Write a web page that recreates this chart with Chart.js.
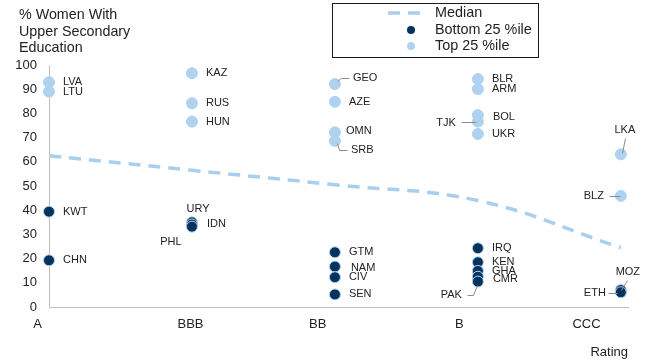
<!DOCTYPE html>
<html>
<head>
<meta charset="utf-8">
<script src="https://cdn.jsdelivr.net/npm/chart.js@4.4.1/dist/chart.umd.min.js"></script>
<style>
  html, body { margin: 0; padding: 0; background: #fff; }
  #wrap { width: 649px; height: 362px; position: relative; }
</style>
</head>
<body>
<div id="wrap"><canvas id="eduChart"></canvas></div>
<script>
'use strict';

/* ---- Data ---- */
const RATINGS = ['A', 'BBB', 'BB', 'B', 'CCC'];
const MEDIAN  = [62.5, 56.5, 50.5, 44.0, 24.5];

const TOP_CODES  = ['LVA', 'LTU', 'KAZ', 'RUS', 'HUN', 'GEO', 'AZE', 'OMN', 'SRB', 'BLR', 'ARM', 'BOL', 'TJK', 'UKR', 'LKA', 'BLZ'];
const TOP_RATING = [0, 0, 1, 1, 1, 2, 2, 2, 2, 3, 3, 3, 3, 3, 4, 4];
const TOP_VALUES = [92.9, 89.0, 96.6, 84.2, 76.6, 92.1, 84.8, 72.2, 68.6, 94.2, 90.0, 79.3, 76.6, 71.5, 63.1, 45.9];

const BOTTOM_CODES  = ['KWT', 'CHN', 'URY', 'IDN', 'PHL', 'GTM', 'NAM', 'CIV', 'SEN', 'IRQ', 'KEN', 'GHA', 'CMR', 'PAK', 'MOZ', 'ETH'];
const BOTTOM_RATING = [0, 0, 1, 1, 1, 2, 2, 2, 2, 3, 3, 3, 3, 3, 4, 4];
const BOTTOM_VALUES = [39.4, 19.3, 35.0, 34.1, 33.2, 22.6, 16.7, 12.3, 5.2, 24.3, 18.5, 14.9, 12.5, 10.5, 7.0, 6.1];

const Y_TITLE = ['% Women With', 'Upper Secondary', 'Education'];

/* ---- Styles ---- */
const COLORS = {
  light:  '#aed2ef',
  dark:   '#06325e',
  median: '#a9cfee',
  axis:   '#bfbfbf',
  text:   '#222222',
  leader: '#8c8c8c',
};
const FONT = "'Liberation Sans', Arial, sans-serif";

// where rating names sit relative to their column (axis units)
const RATING_LABEL_SHIFT = [-0.08, -0.01, -0.12, -0.13, -0.24];

// data label placement relative to the point, in px
const LABEL_LAYOUT = {
  URY: { dx: 6, dy: -13, align: 'center' },
  IDN: { dx: 15, dy: -1 },
  PHL: { dx: -21, dy: 15, align: 'center' },
  GEO: { dx: 18, dy: -6, lead: [[2, -3], [6, -6], [14, -6]] },
  OMN: { dx: 11, dy: -1 },
  SRB: { dx: 16, dy: 9, lead: [[2, 2], [4, 9], [12, 9]] },
  NAM: { dx: 16, dy: 1 },
  BOL: { dx: 15, dy: 2 },
  TJK: { dx: -22, dy: 1, align: 'right', lead: [[-17, 0], [-2, 0]] },
  CMR: { dx: 15, dy: 2 },
  PAK: { dx: -16, dy: 13, align: 'right', lead: [[-11, 13], [-5, 13], [-1, 3]] },
  LKA: { dx: 4, dy: -24, align: 'center', lead: [[1, -1], [4, -16]] },
  BLZ: { dx: -17, dy: 0, align: 'right', lead: [[-12, 0], [-1, 0]] },
  MOZ: { dx: 7, dy: -18, align: 'center', lead: [[0, 0], [6, -10]] },
  ETH: { dx: -15, dy: 1, align: 'right', lead: [[-13, 1], [-4, 1]] },
};

/* ---- Point labels with leader lines ---- */
const pointLabels = {
  id: 'pointLabels',
  afterDatasetsDraw(chart) {
    const ctx = chart.ctx;
    ctx.save();
    ctx.font = `11px ${FONT}`;
    ctx.fillStyle = COLORS.text;
    ctx.textBaseline = 'middle';
    ctx.strokeStyle = COLORS.leader;
    ctx.lineWidth = 1;
    chart.data.datasets.forEach((ds, di) => {
      if (!ds.codes) return;
      chart.getDatasetMeta(di).data.forEach((pt, i) => {
        const code = ds.codes[i];
        const lay = LABEL_LAYOUT[code] || {};
        const dx = lay.dx !== undefined ? lay.dx : 14;
        const dy = lay.dy || 0;
        if (lay.lead) {
          ctx.beginPath();
          lay.lead.forEach(([lx, ly], k) => {
            const px = Math.round(pt.x + lx) + 0.5, py = Math.round(pt.y + ly) + 0.5;
            k ? ctx.lineTo(px, py) : ctx.moveTo(px, py);
          });
          ctx.stroke();
        }
        ctx.textAlign = lay.align || 'left';
        ctx.fillText(code, pt.x + dx, pt.y + dy);
      });
    });
    ctx.restore();
  }
};

/* ---- Axis title, top-left, three lines ---- */
const cornerTitle = {
  id: 'cornerTitle',
  afterDraw(chart) {
    const ctx = chart.ctx;
    ctx.save();
    ctx.font = `14.3px ${FONT}`;
    ctx.fillStyle = COLORS.text;
    ctx.textAlign = 'left';
    ctx.textBaseline = 'middle';
    Y_TITLE.forEach((line, i) => ctx.fillText(line, 19, 15.5 + i * 16.5));
    ctx.restore();
  }
};

/* ---- Boxed legend, stacked ---- */
const boxLegend = {
  id: 'boxLegend',
  afterDraw(chart) {
    const ctx = chart.ctx;
    const ds = chart.data.datasets;
    ctx.save();
    ctx.strokeStyle = '#1a1a1a';
    ctx.lineWidth = 1;
    ctx.strokeRect(332.5, 3.5, 206, 54);

    ctx.font = `14.4px ${FONT}`;
    ctx.fillStyle = COLORS.text;
    ctx.textBaseline = 'middle';
    ctx.textAlign = 'left';

    // median sample
    ctx.strokeStyle = ds[0].borderColor;
    ctx.lineWidth = ds[0].borderWidth;
    ctx.setLineDash(ds[0].borderDash);
    ctx.beginPath();
    ctx.moveTo(388, 13);
    ctx.lineTo(424, 13);
    ctx.stroke();
    ctx.setLineDash([]);
    ctx.fillText(ds[0].label, 435, 13.5);

    [ds[2], ds[1]].forEach((d, k) => {
      const y = 30 + k * 16;
      ctx.fillStyle = d.backgroundColor;
      ctx.beginPath();
      ctx.arc(411, y, 4, 0, Math.PI * 2);
      ctx.fill();
      ctx.fillStyle = COLORS.text;
      ctx.fillText(d.label, 435, y + 0.5);
    });
    ctx.restore();
  }
};

function toPoints(ratings, values) {
  return values.map((v, i) => ({ x: ratings[i], y: v }));
}

function initEduChart() {
  const el = document.getElementById('eduChart');
  if (!el) return;
  new Chart(el, {
    type: 'scatter',
    data: {
      datasets: [
        {
          label: 'Median',
          data: MEDIAN.map((v, i) => ({ x: i, y: v })),
          showLine: true,
          borderColor: COLORS.median,
          borderWidth: 3.5,
          borderDash: [12, 8],
          tension: 0.4,
          pointRadius: 0,
          clip: false,
          order: 3,
        },
        {
          label: 'Top 25 %ile',
          codes: TOP_CODES,
          data: toPoints(TOP_RATING, TOP_VALUES),
          backgroundColor: COLORS.light,
          borderColor: COLORS.light,
          borderWidth: 1,
          pointRadius: 5.5,
          clip: false,
          order: 2,
        },
        {
          label: 'Bottom 25 %ile',
          codes: BOTTOM_CODES,
          data: toPoints(BOTTOM_RATING, BOTTOM_VALUES),
          backgroundColor: COLORS.dark,
          borderColor: COLORS.light,
          borderWidth: 1,
          pointRadius: 5.5,
          clip: false,
          order: 1,
        }
      ]
    },
    options: {
      responsive: true, maintainAspectRatio: false,
      animation: false,
      layout: { padding: { left: 0, right: 21, top: 65, bottom: 0 } },
      plugins: {
        legend: { display: false },
        tooltip: { enabled: false },
        title: { display: false },
      },
      scales: {
        x: {
          type: 'linear',
          min: 0, max: 4.05,
          grid: { display: false, drawTicks: false },
          border: { color: COLORS.axis, width: 1 },
          afterBuildTicks: (scale) => {
            scale.ticks = RATINGS.map((r, i) => ({ value: i + RATING_LABEL_SHIFT[i] }));
          },
          afterFit: (scale) => { scale.height = 55; },
          ticks: {
            autoSkip: false,
            maxRotation: 0,
            padding: 10,
            color: COLORS.text,
            font: { family: FONT, size: 13 },
            callback: (v, i) => RATINGS[i],
          },
          title: {
            display: true,
            text: 'Rating',
            align: 'end',
            color: COLORS.text,
            font: { family: FONT, size: 13 },
            padding: { top: 4, bottom: 2 },
          }
        },
        y: {
          min: 0, max: 100,
          grid: { display: false, drawTicks: false },
          border: { color: COLORS.axis, width: 1 },
          afterFit: (scale) => { scale.width = 49; },
          ticks: {
            stepSize: 10,
            padding: 12,
            color: COLORS.text,
            font: { family: FONT, size: 13 },
          }
        }
      }
    },
    plugins: [pointLabels, cornerTitle, boxLegend]
  });
}

initEduChart();
</script>
</body>
</html>
